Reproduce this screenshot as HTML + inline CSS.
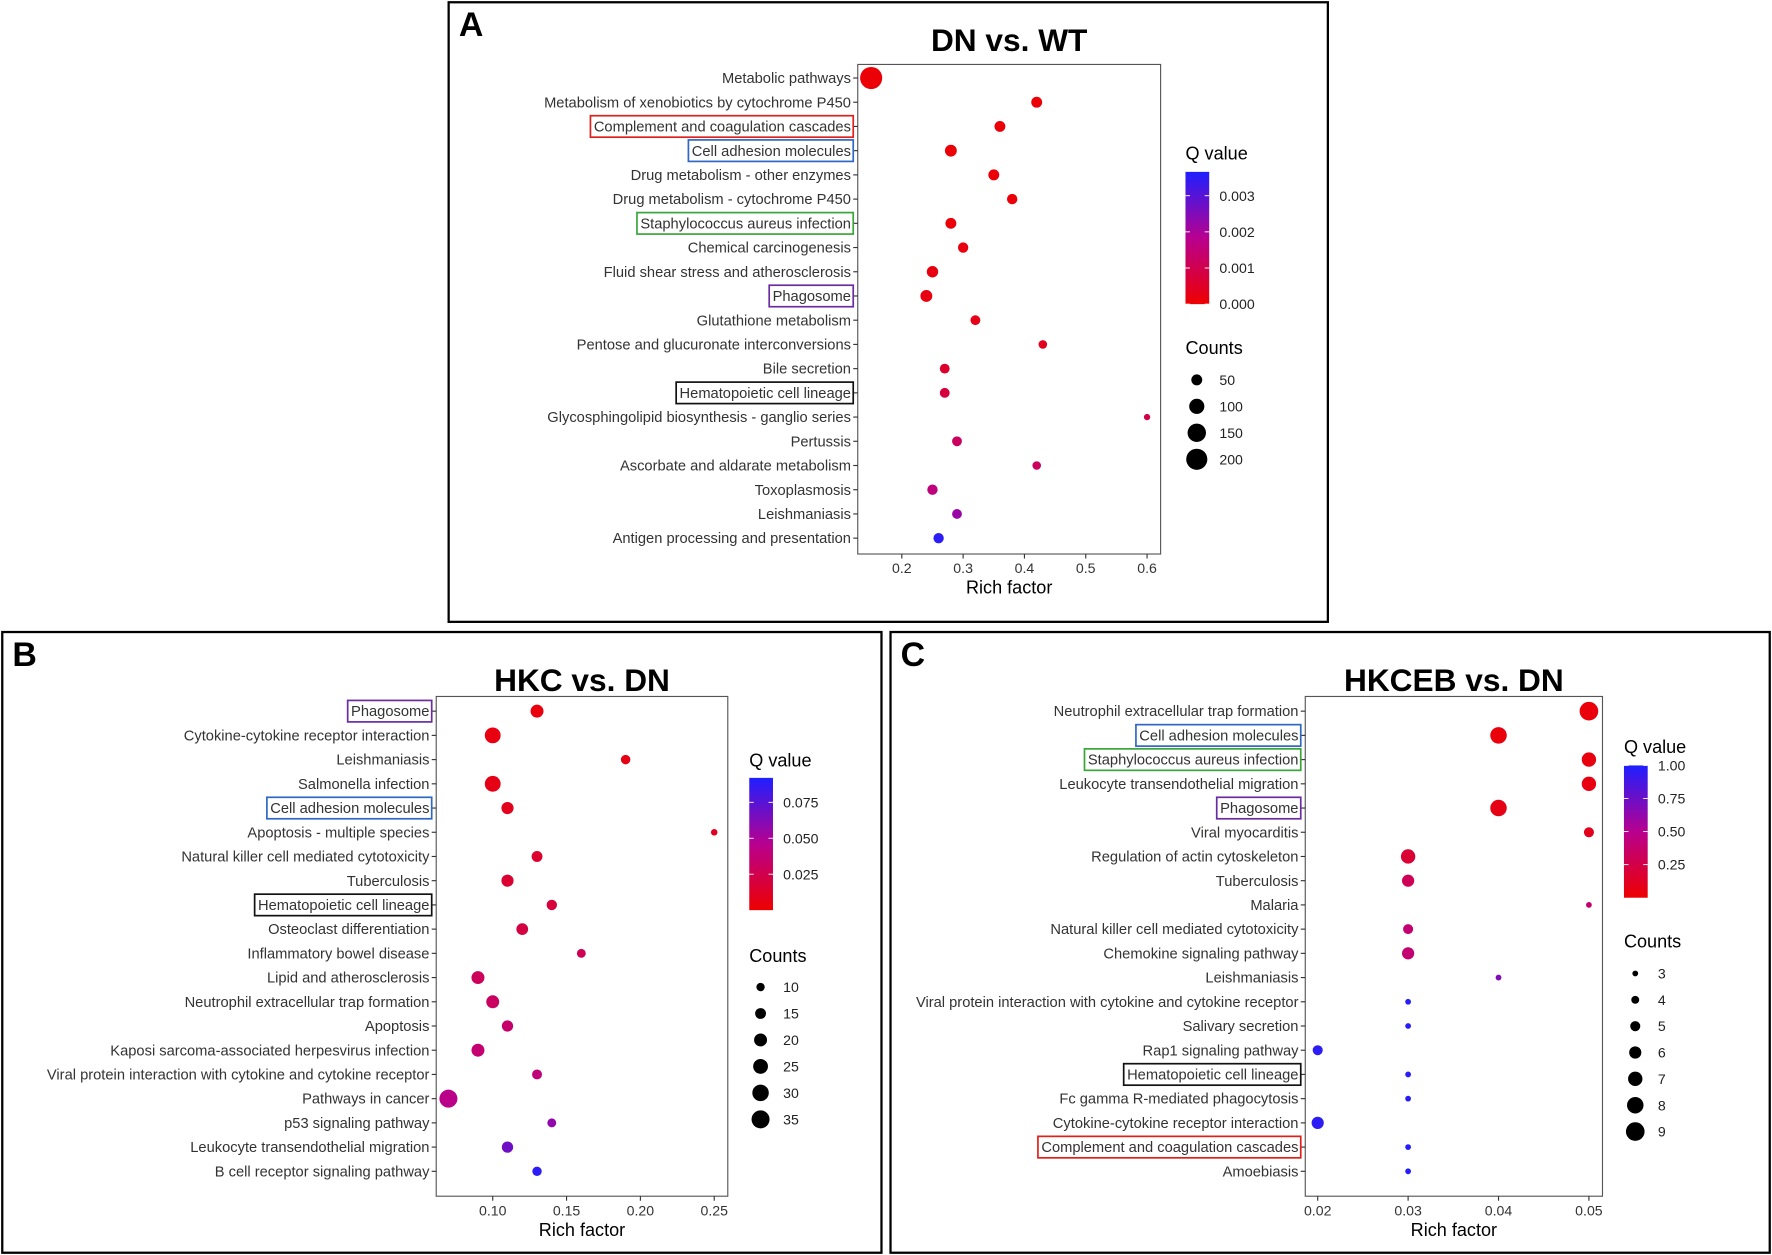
<!DOCTYPE html>
<html><head><meta charset="utf-8">
<style>
html,body{margin:0;padding:0;background:#fff;}
svg{display:block;font-family:"Liberation Sans",sans-serif;}
</style></head>
<body>
<svg id="chart" width="1772" height="1255" viewBox="0 0 1568 1110" preserveAspectRatio="none" xmlns="http://www.w3.org/2000/svg">
<defs>
<linearGradient id="qgrad" x1="0" y1="1" x2="0" y2="0">
<stop offset="0" stop-color="#ee0000"/><stop offset="0.5" stop-color="#b8008f"/><stop offset="1" stop-color="#1f1fff"/>
</linearGradient>
</defs>
</svg>
<script>
// Panel A data
const catsA=["Metabolic pathways","Metabolism of xenobiotics by cytochrome P450","Complement and coagulation cascades","Cell adhesion molecules","Drug metabolism - other enzymes","Drug metabolism - cytochrome P450","Staphylococcus aureus infection","Chemical carcinogenesis","Fluid shear stress and atherosclerosis","Phagosome","Glutathione metabolism","Pentose and glucuronate interconversions","Bile secretion","Hematopoietic cell lineage","Glycosphingolipid biosynthesis - ganglio series","Pertussis","Ascorbate and aldarate metabolism","Toxoplasmosis","Leishmaniasis","Antigen processing and presentation"];
const richA=[0.15,0.42,0.36,0.28,0.35,0.38,0.28,0.30,0.25,0.24,0.32,0.43,0.27,0.27,0.60,0.29,0.42,0.25,0.29,0.26];
const countA=[220,50,50,60,50,45,50,45,55,60,40,30,40,40,15,40,30,45,40,45];
const qA=[0.0001,0.0001,0.0001,0.0001,0.0001,0.0001,0.0001,0.0002,0.0002,0.0002,0.0003,0.0004,0.0006,0.0008,0.0009,0.0012,0.0012,0.0016,0.0022,0.0035];
const xTicksA=[0.2,0.3,0.4,0.5,0.6];
const qTicksA=[0,0.001,0.002,0.003];
const cTicksA=[50,100,150,200];
// Panel B data
const catsB=["Phagosome","Cytokine-cytokine receptor interaction","Leishmaniasis","Salmonella infection","Cell adhesion molecules","Apoptosis - multiple species","Natural killer cell mediated cytotoxicity","Tuberculosis","Hematopoietic cell lineage","Osteoclast differentiation","Inflammatory bowel disease","Lipid and atherosclerosis","Neutrophil extracellular trap formation","Apoptosis","Kaposi sarcoma-associated herpesvirus infection","Viral protein interaction with cytokine and cytokine receptor","Pathways in cancer","p53 signaling pathway","Leukocyte transendothelial migration","B cell receptor signaling pathway"];
const richB=[0.13,0.10,0.19,0.10,0.11,0.25,0.13,0.11,0.14,0.12,0.16,0.09,0.10,0.11,0.09,0.13,0.07,0.14,0.11,0.13];
const countB=[20,28,12,28,18,7,15,18,14,17,11,20,20,16,20,13,35,11,16,12];
const qB=[0.004,0.005,0.006,0.007,0.009,0.011,0.014,0.016,0.019,0.022,0.026,0.029,0.031,0.034,0.036,0.039,0.044,0.058,0.068,0.088];
const xTicksB=[0.10,0.15,0.20,0.25];
const qTicksB=[0.025,0.050,0.075];
const cTicksB=[10,15,20,25,30,35];
// Panel C data
const catsC=["Neutrophil extracellular trap formation","Cell adhesion molecules","Staphylococcus aureus infection","Leukocyte transendothelial migration","Phagosome","Viral myocarditis","Regulation of actin cytoskeleton","Tuberculosis","Malaria","Natural killer cell mediated cytotoxicity","Chemokine signaling pathway","Leishmaniasis","Viral protein interaction with cytokine and cytokine receptor","Salivary secretion","Rap1 signaling pathway","Hematopoietic cell lineage","Fc gamma R-mediated phagocytosis","Cytokine-cytokine receptor interaction","Complement and coagulation cascades","Amoebiasis"];
const richC=[0.05,0.04,0.05,0.05,0.04,0.05,0.03,0.03,0.05,0.03,0.03,0.04,0.03,0.03,0.02,0.03,0.03,0.02,0.03,0.03];
const countC=[9,8,7,7,8,5,7,6,3,5,6,3,3,3,5,3,3,6,3,3];
const qC=[0.04,0.04,0.05,0.06,0.07,0.1,0.18,0.3,0.38,0.4,0.4,0.68,0.97,0.97,0.95,0.97,0.97,0.95,0.98,0.98];
const xTicksC=[0.02,0.03,0.04,0.05];
const qTicksC=[0.25,0.50,0.75,1.00];
const cTicksC=[3,4,5,6,7,8,9];

const NS="http://www.w3.org/2000/svg";
const svg=document.getElementById('chart');
function mk(tag,attrs,parent,txt){const e=document.createElementNS(NS,tag);for(const k in attrs)e.setAttribute(k,attrs[k]);if(txt!==undefined)e.textContent=txt;(parent||svg).appendChild(e);return e;}
function lerp(a,b,t){return a+(b-a)*t;}
function qColor(t){t=Math.max(0,Math.min(1,t));const s=[[238,0,0],[184,0,143],[31,31,255]];let a,b,u;if(t<0.5){a=s[0];b=s[1];u=t/0.5;}else{a=s[1];b=s[2];u=(t-0.5)/0.5;}return `rgb(${Math.round(lerp(a[0],b[0],u))},${Math.round(lerp(a[1],b[1],u))},${Math.round(lerp(a[2],b[2],u))})`;}

const highlights={"Complement and coagulation cascades":"#e0201b","Cell adhesion molecules":"#2f68c4","Staphylococcus aureus infection":"#3aa63a","Phagosome":"#6a2ca0","Hematopoietic cell lineage":"#111"};

function panel(p){
  const g=mk('g',{});
  
  
  const frame=mk('rect',{x:p.box[0],y:p.box[1],width:p.box[2],height:p.box[3],fill:'none',stroke:'#000','stroke-width':2},g);
  
  const letter=mk('text',{x:p.box[0]+9,y:p.box[1]+30,'font-size':30,'font-weight':'bold'},g,p.letter);
  
  const [px0,py0,px1,py1]=p.plot;
  const title=mk('text',{x:(px0+px1)/2,y:p.ty,'font-size':28,'font-weight':'bold','text-anchor':'middle'},g,p.title);
  
  const pr=mk('rect',{x:px0,y:py0,width:px1-px0,height:py1-py0,fill:'#fff',stroke:'#555','stroke-width':1},g);
  
  const xs=v=>p.xa[0]+(v-p.xv[0])*(p.xa[1]-p.xa[0])/(p.xv[1]-p.xv[0]);
  const ys=i=>p.y0+i*p.dy;
  const n=p.cats.length;
  for(let i=0;i<n;i++){
    const y=ys(i);
    mk('line',{x1:px0-4,x2:px0,y1:y,y2:y,stroke:'#333'},g);
    const t=mk('text',{x:px0-6,y:y+4.5,'font-size':13,'text-anchor':'end',fill:'#333'},g,p.cats[i]);
    
    const hc=highlights[p.cats[i]];
    if(hc){const bb=t.getBBox();const r=mk('rect',{x:bb.x-3,y:y-9.5,width:bb.width+5,height:19,fill:'none',stroke:hc,'stroke-width':1.5},g);
      }
    const c=mk('circle',{cx:xs(p.rich[i]),cy:y,r:p.rs(p.count[i]),fill:qColor(p.q[i]/p.qmax)},g);
    
  }
  p.xt.forEach(v=>{const x=xs(v);mk('line',{x1:x,x2:x,y1:py1,y2:py1+4,stroke:'#333'},g);
    const t=mk('text',{x:x,y:py1+17,'font-size':12.5,'text-anchor':'middle',fill:'#333'},g,p.fmtx(v));
    });
  const xl=mk('text',{x:(px0+px1)/2,y:py1+35,'font-size':16,'text-anchor':'middle'},g,'Rich factor');
  
  const [lx,qy]=p.leg;
  const qt=mk('text',{x:lx,y:qy,'font-size':16},g,'Q value');
  
  const [cb0,cb1]=p.cbar;
  const cb=mk('rect',{x:lx,y:cb0,width:21,height:cb1-cb0,fill:'url(#qgrad)'},g);
  
  p.qt.forEach(v=>{const y=cb1-(v/p.qmax)*(cb1-cb0);
    mk('line',{x1:lx,x2:lx+4,y1:y,y2:y,stroke:'#fff','stroke-width':0.8},g);mk('line',{x1:lx+17,x2:lx+21,y1:y,y2:y,stroke:'#fff','stroke-width':0.8},g);
    const t=mk('text',{x:lx+30,y:y+4.5,'font-size':12.5,fill:'#222'},g,p.fmtq(v));
    });
  const ct=mk('text',{x:lx,y:p.cy0,'font-size':16},g,'Counts');
  
  p.ct.forEach((v,i)=>{const y=p.cy1+i*p.cdy;
    const c=mk('circle',{cx:lx+10,cy:y,r:p.rs(v),fill:'#000'},g);
    
    const t=mk('text',{x:lx+30,y:y+4.5,'font-size':12.5,fill:'#222'},g,String(v));
    });
}

panel({id:'panel-a',letter:'A',title:'DN vs. WT',ty:45,box:[397,2,778,548],plot:[759,57,1027,490],
  cats:catsA,rich:richA,count:countA,q:qA,y0:69,dy:21.42,xa:[798,1015],xv:[0.2,0.6],xt:xTicksA,fmtx:v=>v.toFixed(1),
  rs:c=>0.64*Math.sqrt(c)+0.3,qmax:0.00366,qt:qTicksA,fmtq:v=>v.toFixed(3),leg:[1049,141],cbar:[152,269],cy0:313,cy1:336,cdy:23.4,ct:cTicksA});
panel({id:'panel-b',letter:'B',title:'HKC vs. DN',ty:611,box:[2,559,778,549],plot:[386,616,644,1058],
  cats:catsB,rich:richB,count:countB,q:qB,y0:629,dy:21.42,xa:[436,632],xv:[0.10,0.25],xt:xTicksB,fmtx:v=>v.toFixed(2),
  rs:c=>1.55*Math.sqrt(c)-1.2,qmax:0.092,qt:qTicksB,fmtq:v=>v.toFixed(3),leg:[663,678],cbar:[688,805],cy0:851,cy1:873,cdy:23.4,ct:cTicksB});
panel({id:'panel-c',letter:'C',title:'HKCEB vs. DN',ty:611,box:[788,559,778,549],plot:[1155,616,1418,1058],
  cats:catsC,rich:richC,count:countC,q:qC,y0:629,dy:21.42,xa:[1166,1406],xv:[0.02,0.05],xt:xTicksC,fmtx:v=>v.toFixed(2),
  rs:c=>0.95*c-0.3,qmax:1.0,qt:qTicksC,fmtq:v=>v.toFixed(2),leg:[1437,666],cbar:[677,794],cy0:838,cy1:861,cdy:23.3,ct:cTicksC});
</script>
</body></html>
